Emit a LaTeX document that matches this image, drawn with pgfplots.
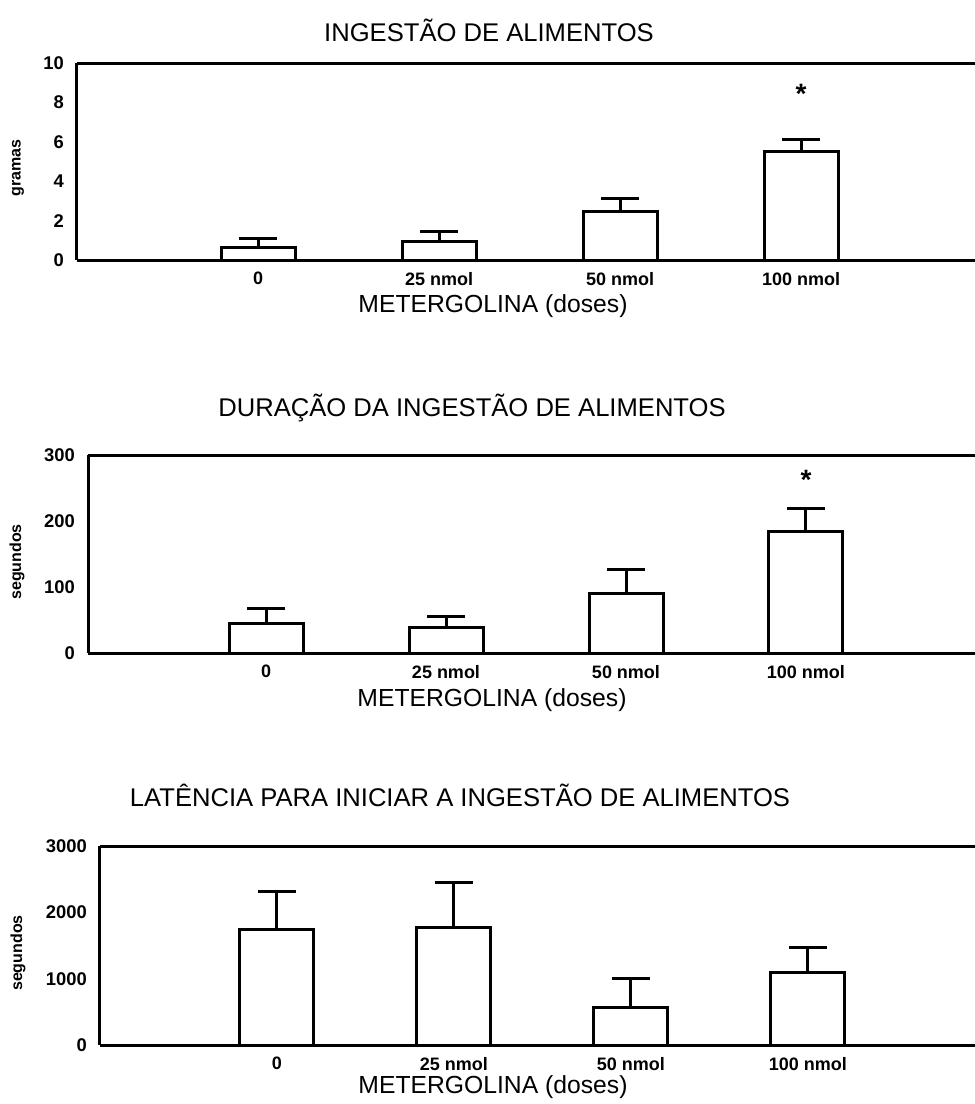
\documentclass[border=0pt]{standalone}
\usepackage{pgfplots}
\pgfplotsset{compat=1.18}
\usepackage{pgfplotstable}
\usepackage{fontspec}
\setmainfont{Liberation Sans}

\pgfplotstableread{
x y e
0 0.66 0.41
1 0.96 0.51
2 2.44 0.66
3 5.53 0.61
}\dataA
\pgfplotstableread{
x y e
0 45 23
1 38 18
2 90 37
3 184 35
}\dataB
\pgfplotstableread{
x y e
0 1735 573
1 1765 678
2 573 437
3 1086 377
}\dataC

\pgfplotsset{
  panel/.style={
    scale only axis,
    axis x line*=bottom,
    axis y line*=left,
    axis line style={line width=1.5pt},
    major tick length=0pt,
    xtick={0,1,2,3},
    xticklabels={0,25 nmol,50 nmol,100 nmol},
    ymin=0,
    /pgf/number format/assume math mode=true,
    /pgf/number format/1000 sep={},
    yticklabel style={font=\fontsize{9.2}{10}\selectfont\bfseries, xshift=-3pt},
    xticklabel style={font=\fontsize{9}{10}\selectfont\bfseries, yshift=-2.5pt},
    clip=false,
  },
  barplot/.style={
    ybar, bar width=37pt, bar shift=0pt,
    draw=black, fill=white, line width=1.5pt,
    error bars/.cd, y dir=plus, y explicit,
    error mark=|,
    error mark options={line width=1.5pt, mark size=9.5pt},
    error bar style={line width=1.5pt},
  },
}

\begin{document}
\begin{tikzpicture}
\path[use as bounding box] (0,0) rectangle (487.5pt,-552pt);

% Panel 1
\begin{axis}[panel, at={(38.5pt,-130pt)}, anchor=south west,
  width=449pt, height=98.5pt, xmin=-1, xmax=3.961, ymax=10,
  ytick={0,2,4,6,8,10}]
\addplot[barplot] table[x=x,y=y,y error=e] {\dataA};
\draw[line width=1.5pt] (rel axis cs:0,1) -- (rel axis cs:1,1);
\node[font=\fontsize{14}{14}\selectfont\bfseries] at (axis cs:3,8.45) {*};
\end{axis}
\node[font=\fontsize{12.8}{14}\selectfont] at (244.5pt,-15pt) {INGESTÃO DE ALIMENTOS};
\node[font=\fontsize{12.35}{14}\selectfont] at (246.5pt,-153pt) {METERGOLINA (doses)};
\node[font=\fontsize{8}{9}\selectfont\bfseries, rotate=90] at (9pt,-84pt) {gramas};

% Panel 2
\begin{axis}[panel, at={(44pt,-326.5pt)}, anchor=south west,
  width=443.5pt, height=99pt, xmin=-0.989, xmax=3.939, ymax=300,
  ytick={0,100,200,300}]
\addplot[barplot] table[x=x,y=y,y error=e] {\dataB};
\draw[line width=1.5pt] (rel axis cs:0,1) -- (rel axis cs:1,1);
\node[font=\fontsize{14}{14}\selectfont\bfseries] at (axis cs:3,262) {*};
\end{axis}
\node[font=\fontsize{12.8}{14}\selectfont] at (236pt,-204pt) {DURAÇÃO DA INGESTÃO DE ALIMENTOS};
\node[font=\fontsize{12.35}{14}\selectfont] at (246pt,-350pt) {METERGOLINA (doses)};
\node[font=\fontsize{8}{9}\selectfont\bfseries, rotate=90] at (8.5pt,-281pt) {segundos};

% Panel 3
\begin{axis}[panel, at={(50pt,-522.5pt)}, anchor=south west,
  width=437.5pt, height=99.5pt, xmin=-1, xmax=3.944, ymax=3000,
  ytick={0,1000,2000,3000}]
\addplot[barplot] table[x=x,y=y,y error=e] {\dataC};
\draw[line width=1.5pt] (rel axis cs:0,1) -- (rel axis cs:1,1);
\end{axis}
\node[font=\fontsize{12.8}{14}\selectfont] at (230pt,-397.5pt) {LATÊNCIA PARA INICIAR A INGESTÃO DE ALIMENTOS};
\node[font=\fontsize{12.35}{14}\selectfont] at (246.5pt,-543.5pt) {METERGOLINA (doses)};
\node[font=\fontsize{8}{9}\selectfont\bfseries, rotate=90] at (9pt,-476.5pt) {segundos};
\end{tikzpicture}
\end{document}
